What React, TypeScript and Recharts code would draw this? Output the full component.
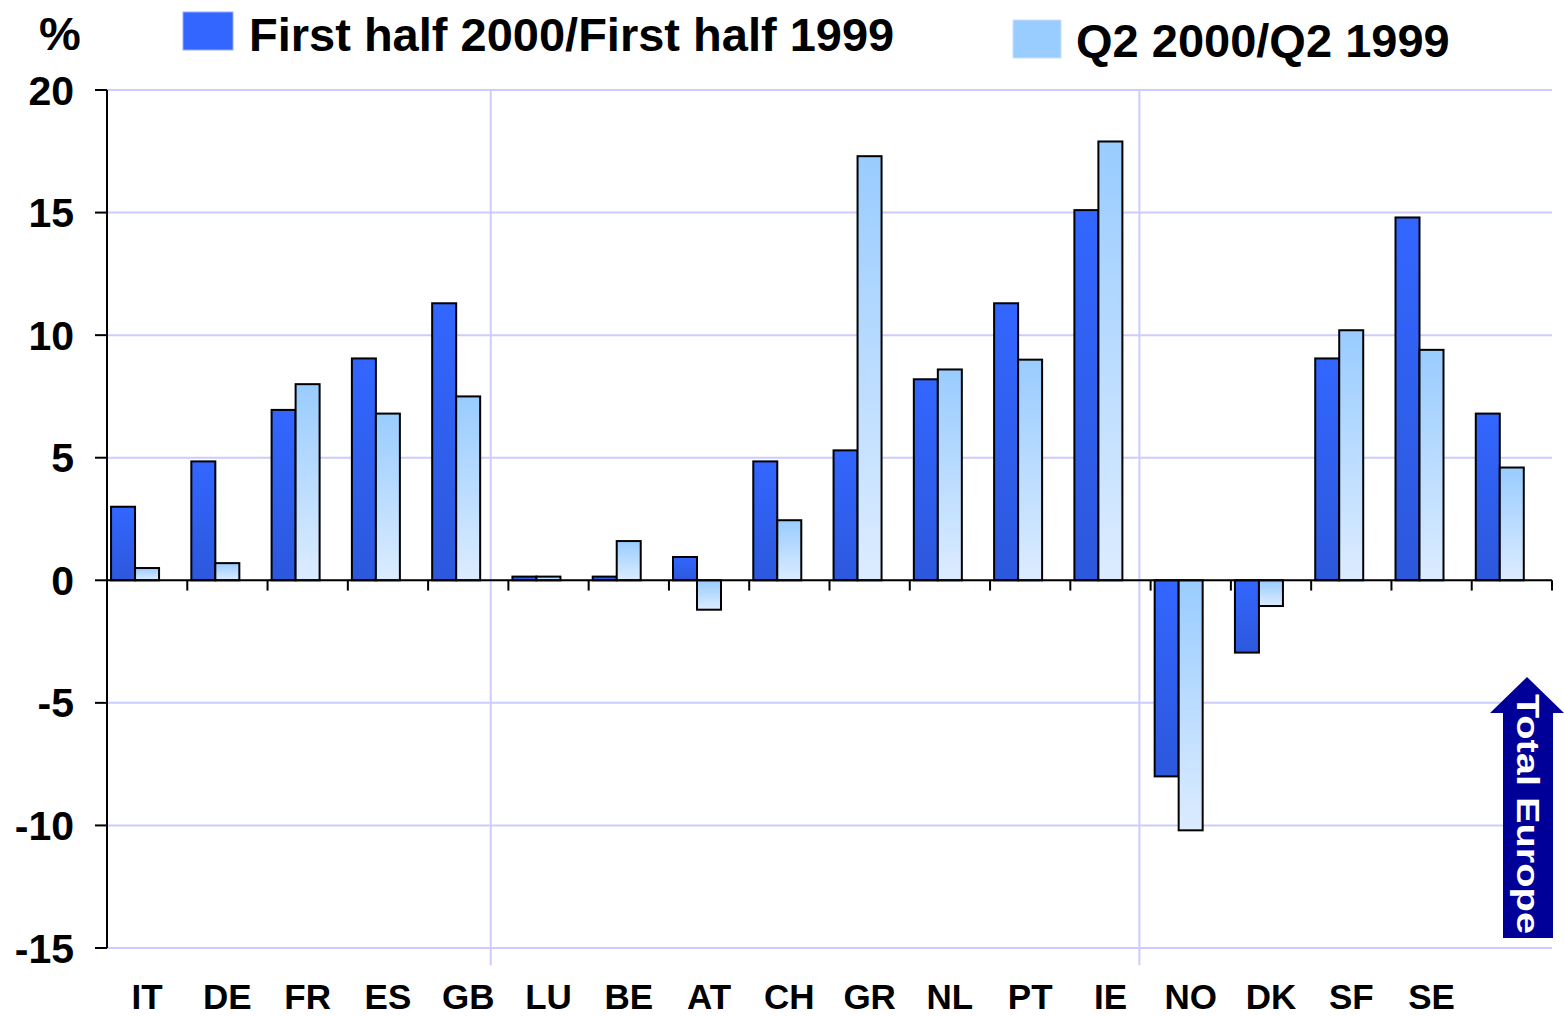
import { BarChart, Bar, XAxis, YAxis, CartesianGrid, ReferenceLine } from "recharts";

const countries = ["IT", "DE", "FR", "ES", "GB", "LU", "BE", "AT", "CH", "GR", "NL", "PT", "IE", "NO", "DK", "SF", "SE", ""];
const firstHalf = [3.0, 4.85, 6.95, 9.05, 11.3, 0.15, 0.15, 0.95, 4.85, 5.3, 8.2, 11.3, 15.1, -8.0, -2.95, 9.05, 14.8, 6.8];
const secondQuarter = [0.5, 0.7, 8.0, 6.8, 7.5, 0.15, 1.6, -1.2, 2.45, 17.3, 8.6, 9.0, 17.9, -10.2, -1.05, 10.2, 9.4, 4.6];
const yTicks = [-15, -10, -5, 0, 5, 10, 15, 20];
// group dividers, in category units (IT..GB | LU..IE | NO..)
const groupBreaks = [4.78, 12.86];

const data = countries.map((name, i) => ({ name, pos: i + 0.5, first: firstHalf[i], q2: secondQuarter[i] }));

const FONT = "'Liberation Sans', Arial, Helvetica, sans-serif";
const SHIFT = 12; // bars sit left of the label centre in the original

const ShiftedBar = (props: any) => {
  const { x, y, width, height, fill } = props;
  if (height == null || width == null) return null;
  const top = Math.min(y, y + height);
  return (
    <rect x={x - SHIFT} y={top} width={width} height={Math.abs(height)} fill={fill} stroke="#000" strokeWidth={2} />
  );
};

export default function App() {
  const boundaries = countries.map((_, i) => i + 1);

  return (
    <div style={{ position: "absolute", left: 0, top: 0, width: 1564, height: 1017, background: "#fff", fontFamily: FONT }}>
      <BarChart
        width={1564}
        height={1017}
        data={data}
        margin={{ top: 90, right: 12, left: 0, bottom: 0 }}
        barCategoryGap="20%"
        barGap={0}
      >
        <defs>
          <linearGradient id="gDark" x1="0" y1="0" x2="0" y2="1">
            <stop offset="0%" stopColor="#3366ff" />
            <stop offset="100%" stopColor="#2c58dc" />
          </linearGradient>
          <linearGradient id="gLight" x1="0" y1="0" x2="0" y2="1">
            <stop offset="0%" stopColor="#99ccff" />
            <stop offset="100%" stopColor="#dcecff" />
          </linearGradient>
        </defs>
        <CartesianGrid vertical={false} stroke="#ccccff" strokeWidth={2} />
        <XAxis
          dataKey="name"
          axisLine={false}
          tickLine={false}
          height={69}
          tickSize={8}
          tickMargin={28}
          interval={0}
          tick={{ fill: "#000", fontSize: 35, fontWeight: "bold", fontFamily: FONT }}
        />
        <XAxis
          xAxisId="pos"
          dataKey="pos"
          type="number"
          domain={[0, 18]}
          allowDataOverflow
          hide
        />
        <YAxis
          width={107}
          domain={[-15, 20]}
          ticks={yTicks}
          interval={0}
          axisLine={{ stroke: "#000", strokeWidth: 2 }}
          tickLine={{ stroke: "#000", strokeWidth: 2 }}
          tickSize={12}
          tickMargin={21}
          tick={{ fill: "#000", fontSize: 41, fontWeight: "bold", fontFamily: FONT }}
        />
        {groupBreaks.map((b) => (
          <ReferenceLine
            key={"g" + b}
            xAxisId="pos"
            segment={[{ x: b, y: 20 }, { x: b, y: -15.7 }]}
            stroke="#ccccff"
            strokeWidth={2}
            ifOverflow="visible"
          />
        ))}
        <Bar dataKey="first" fill="url(#gDark)" isAnimationActive={false} shape={ShiftedBar} />
        <Bar dataKey="q2" fill="url(#gLight)" isAnimationActive={false} shape={ShiftedBar} />
        <ReferenceLine y={0} stroke="#000" strokeWidth={2} />
        {boundaries.map((b) => (
          <ReferenceLine
            key={"t" + b}
            xAxisId="pos"
            segment={[{ x: b, y: 0 }, { x: b, y: -0.42 }]}
            stroke="#000"
            strokeWidth={2}
            ifOverflow="visible"
          />
        ))}
      </BarChart>

      <svg width={1564} height={1017} style={{ position: "absolute", left: 0, top: 0, pointerEvents: "none" }}>
        <text x={39} y={50} fontSize={47} fontWeight="bold" fontFamily={FONT} fill="#000">%</text>
        <rect x={183} y={12} width={50} height={38} fill="#3366ff" stroke="#99aaff" strokeWidth={1} />
        <text x={249} y={51} fontSize={47} fontWeight="bold" fontFamily={FONT} fill="#000">
          First half 2000/First half 1999
        </text>
        <rect x={1013} y={20} width={48} height={38} fill="#99ccff" stroke="#cce0ff" strokeWidth={1} />
        <text x={1076} y={57} fontSize={47} fontWeight="bold" fontFamily={FONT} fill="#000">
          Q2 2000/Q2 1999
        </text>
        <polygon
          points="1527,677 1564,713 1553,713 1553,938 1503,938 1503,713 1490,713"
          fill="#000099"
        />
        <text
          transform="translate(1517,694) rotate(90)"
          fontSize={31}
          fontWeight="bold"
          fontFamily={FONT}
          fill="#fff"
          textLength={240}
          lengthAdjust="spacingAndGlyphs"
        >
          Total Europe
        </text>
      </svg>
    </div>
  );
}
